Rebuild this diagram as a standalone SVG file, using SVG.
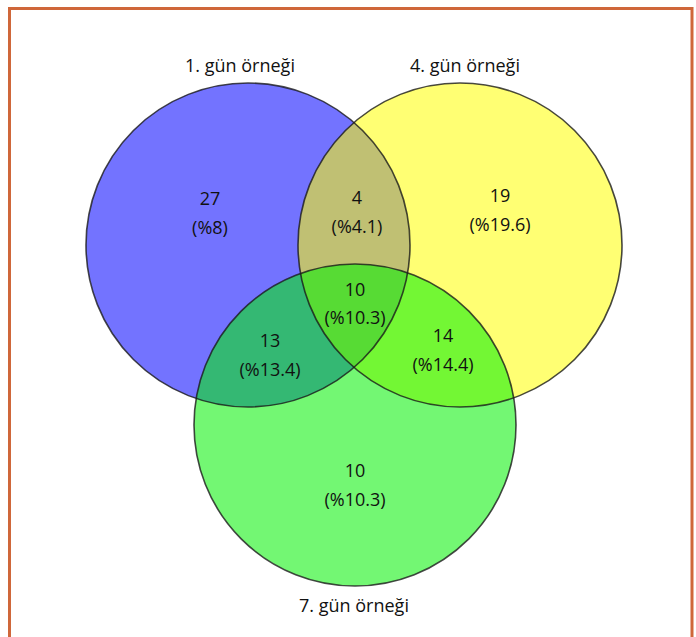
<svg xmlns="http://www.w3.org/2000/svg" width="696" height="637" viewBox="0 0 696 637">
<style>
.t{font-family:"Open Sans","Noto Sans","Liberation Sans",sans-serif;font-size:18px;fill:#111;text-anchor:middle}
.f{stroke:none}
.o{fill:none;stroke:#1a1a1a;stroke-opacity:0.8;stroke-width:1.6}
</style>
<rect width="696" height="637" fill="#ffffff"/>
<path d="M9.5 640 V8.5 H692 V640" fill="none" stroke="#cf673a" stroke-width="3"/>
<g id="fills">
<circle class="f" cx="248" cy="245" r="162" fill="#0000ff" fill-opacity="0.55"/>
<circle class="f" cx="460" cy="245" r="162" fill="#ffff00" fill-opacity="0.55"/>
<circle class="f" cx="355" cy="425" r="161" fill="#00f000" fill-opacity="0.55"/>
</g>
<g id="day1">
<circle class="o" cx="248" cy="245" r="162"/>
<text class="t" x="240" y="72">1. gün örneği</text>
</g>
<g id="day4">
<circle class="o" cx="460" cy="245" r="162"/>
<text class="t" x="465" y="72">4. gün örneği</text>
</g>
<g id="day7">
<circle class="o" cx="355" cy="425" r="161"/>
<text class="t" x="354" y="612">7. gün örneği</text>
</g>
<g id="labels">
<text class="t" x="210" y="205">27</text>
<text class="t" x="210" y="234">(%8)</text>
<text class="t" x="357" y="204">4</text>
<text class="t" x="357" y="233">(%4.1)</text>
<text class="t" x="500" y="202">19</text>
<text class="t" x="500" y="231">(%19.6)</text>
<text class="t" x="355" y="296">10</text>
<text class="t" x="355" y="324">(%10.3)</text>
<text class="t" x="270" y="347">13</text>
<text class="t" x="270" y="376">(%13.4)</text>
<text class="t" x="443" y="342">14</text>
<text class="t" x="443" y="371">(%14.4)</text>
<text class="t" x="355" y="477">10</text>
<text class="t" x="355" y="506">(%10.3)</text>
</g>
<g id="connectors"></g>
</svg>
